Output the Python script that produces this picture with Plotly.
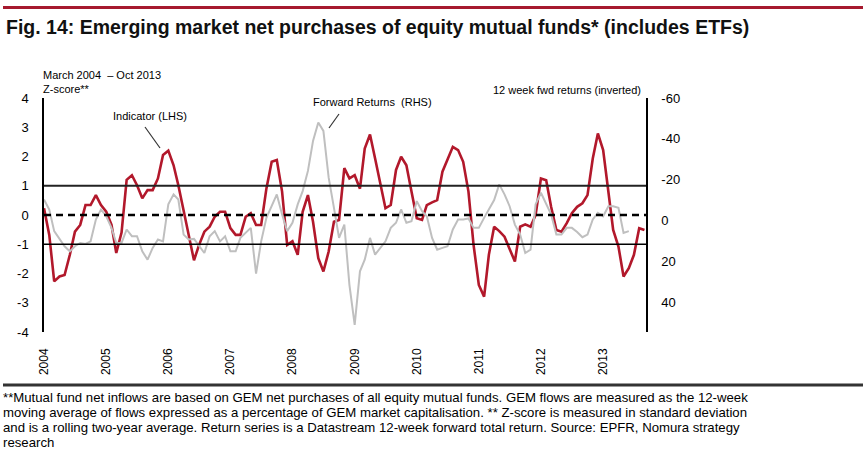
import pandas as pd
import plotly.graph_objects as go

# ---- data (monthly) ----
indicator_z = [
    0.23, -0.68, -2.27, -2.10, -2.05, -1.36, -0.57, -0.34, 0.34, 0.34, 0.68, 0.34,
    0.11, -0.34, -1.30, -0.60, 1.20, 1.36, 1.02, 0.57, 0.85, 0.85, 1.25, 2.05,
    2.20, 1.70, 1.02, 0.11, -0.68, -1.55, -1.02, -0.57, -0.40, -0.06, 0.11, 0.11,
    -0.45, -0.68, -0.68, -0.06, 0.06, -0.34, -0.34, 0.91, 1.82, 1.88, 0.80, -1.02,
    -0.90, -1.36, 0.11, 0.68, -0.23, -1.48, -1.93, -1.25, -0.23, -0.17, 1.60, 1.25,
    1.36, 0.90, 2.27, 2.75, 1.93, 1.08, 0.23, 0.34, 1.54, 1.99, 1.70, 0.80,
    -0.11, -0.17, 0.34, 0.43, 0.51, 1.48, 1.93, 2.33, 2.22, 1.82, 0.80, -1.02,
    -2.39, -2.79, -1.36, -0.40, -0.55, -0.74, -1.16, -1.59, -0.40, -0.32, -0.40, 0.00,
    1.25, 1.19, 0.28, -0.51, -0.57, -0.28, 0.06, 0.28, 0.40, 0.68, 1.93, 2.79,
    2.22, 0.80, -0.51, -1.08, -2.10, -1.82, -1.36, -0.45, -0.51,
]
fwd_returns = [
    -10.3, -5.4, 5.2, 9.3, 12.6, 15.1, 12.6, 11.0, 11.5, 10.2, -0.5, -5.4,
    -2.1, 3.6, 11.0, 11.0, 4.4, 7.7, 7.7, 15.1, 19.2, 13.4, 9.3, 10.2,
    -7.9, -12.8, -10.3, 6.9, 9.3, 9.0, 12.6, 15.9, 7.7, 5.2, 10.2, 7.7,
    15.1, 15.1, 8.5, 6.1, 3.6, 26.0, 10.2, -1.3, -7.0, -12.8, -3.0, 5.2,
    1.1, -7.9, -14.4, -24.3, -39.0, -48.0, -43.9, -21.0, -6.2, 8.5, 2.0, 31.5,
    51.1, 24.9, 19.2, 8.5, 16.7, 13.4, 10.2, 3.6, 1.1, -5.4, 1.1, 0.3,
    -9.5, -4.6, -2.1, 8.5, 14.3, 13.4, 12.6, 4.4, -0.5, -0.5, -1.0, 3.6,
    3.6, -1.3, -5.4, -10.0, -17.7, -12.8, -7.0, 2.0, 6.9, 15.9, 14.3, -7.9,
    -13.6, -7.9, -3.0, 6.9, 6.9, 3.6, 3.6, 5.6, 8.2, 6.9, -0.5, -3.8,
    -2.1, -7.0, -7.0, -6.2, 6.1, 5.2,
]
dates = pd.date_range("2004-01-01", periods=len(indicator_z), freq="MS")
year_ticks = [f"{y}-01-01" for y in range(2004, 2014)]
year_labels = [str(y) for y in range(2004, 2014)]
lhs_ticks = [4, 3, 2, 1, 0, -1, -2, -3, -4]
lhs_labels = ["4", "3", "2", "1", "0", "-1", "-2", "-3", "-4"]
rhs_ticks = [-60, -40, -20, 0, 20, 40]
rhs_labels = ["-60", "-40", "-20", "0", "20", "40"]

RED = "#B2182B"
GREY = "#BFBFBF"
FONT = "Liberation Sans"

fig = go.Figure()
fig.add_trace(go.Scatter(x=dates[:len(fwd_returns)], y=fwd_returns, mode="lines",
                         line=dict(color=GREY, width=2), yaxis="y2", showlegend=False))
fig.add_trace(go.Scatter(x=dates, y=indicator_z, mode="lines",
                         line=dict(color=RED, width=2.6), showlegend=False))

fig.update_layout(
    width=865, height=464,
    margin=dict(l=44, r=219, t=98, b=132),
    paper_bgcolor="white", plot_bgcolor="white",
    font=dict(family=FONT, color="black", size=12),
    xaxis=dict(type="date", range=["2004-01-01", "2013-09-10"], tickvals=year_ticks,
               ticktext=year_labels, tickangle=-90, showgrid=False, zeroline=False,
               showline=False, ticks="", ticklabelstandoff=13,
               tickfont=dict(size=12, family=FONT)),
    yaxis=dict(range=[-4, 4], tickvals=lhs_ticks, ticktext=lhs_labels, showgrid=False,
               zeroline=False, showline=True, linecolor="black", linewidth=1.5, ticks="",
               ticklabelstandoff=11, tickfont=dict(size=13, family=FONT)),
    yaxis2=dict(range=[54.6, -60], tickvals=rhs_ticks, ticktext=rhs_labels, overlaying="y",
                side="right", showgrid=False, zeroline=False, showline=True,
                linecolor="black", linewidth=1.5, ticks="", ticklabelstandoff=11,
                tickfont=dict(size=13, family=FONT)),
)


def px(x):
    return (x - 44) / 602


def py(y):
    return (332 - y) / 234


shapes = [
    dict(type="line", xref="paper", yref="y", x0=0, x1=1, y0=1, y1=1,
         line=dict(color="#222", width=1.8), layer="above"),
    dict(type="line", xref="paper", yref="y", x0=0, x1=1, y0=-1, y1=-1,
         line=dict(color="black", width=1.3), layer="above"),
    dict(type="line", xref="paper", yref="y", x0=0, x1=1, y0=0, y1=0,
         line=dict(color="black", width=2.5, dash="7px,5px"), layer="above"),
    dict(type="line", xref="paper", yref="paper", x0=px(3), x1=px(863),
         y0=py(7.5), y1=py(7.5), line=dict(color="#A6192E", width=3)),
    dict(type="line", xref="paper", yref="paper", x0=px(3), x1=px(863),
         y0=py(385), y1=py(385), line=dict(color="#333333", width=3)),
    dict(type="line", xref="paper", yref="paper", x0=px(145), x1=px(160),
         y0=py(127), y1=py(148), line=dict(color="#333", width=1.2)),
    dict(type="line", xref="paper", yref="paper", x0=px(339), x1=px(329),
         y0=py(114), y1=py(128), line=dict(color="#333", width=1.2)),
]
fig.update_layout(shapes=shapes)

ann = [
    dict(text="<b>Fig. 14: Emerging market net purchases of equity mutual funds* (includes ETFs)</b>",
         x=px(4), y=py(27), xanchor="left", yanchor="middle", font=dict(size=19.5, family=FONT, color="#111")),
    dict(text="March 2004  – Oct 2013", x=px(41), y=py(75), xanchor="left", yanchor="middle",
         font=dict(size=11, family=FONT)),
    dict(text="Z-score**", x=px(41), y=py(89), xanchor="left", yanchor="middle",
         font=dict(size=11, family=FONT)),
    dict(text="Indicator (LHS)", x=px(150), y=py(116), xanchor="center", yanchor="middle",
         font=dict(size=11, family=FONT)),
    dict(text="Forward Returns  (RHS)", x=px(372), y=py(102), xanchor="center", yanchor="middle",
         font=dict(size=11, family=FONT)),
    dict(text="12 week fwd returns (inverted)", x=px(643), y=py(90), xanchor="right", yanchor="middle",
         font=dict(size=11, family=FONT)),
]
foot = [
    "**Mutual fund net inflows are based on GEM net purchases of all equity mutual funds. GEM flows are measured as the 12-week",
    "moving average of flows expressed as a percentage of GEM market capitalisation. ** Z-score is measured in standard deviation",
    "and is a rolling two-year average. Return series is a Datastream 12-week forward total return. Source: EPFR, Nomura strategy",
    "research",
]
for i, line in enumerate(foot):
    ann.append(dict(text=line, x=px(2), y=py(397 + 15 * i), xanchor="left", yanchor="middle",
                    borderpad=0, font=dict(size=13.2, family=FONT)))
for a in ann:
    a.update(xref="paper", yref="paper", showarrow=False)
fig.update_layout(annotations=ann)

fig.write_html("out.html", config={"displayModeBar": False},
               post_script="document.body.style.margin='0';")
